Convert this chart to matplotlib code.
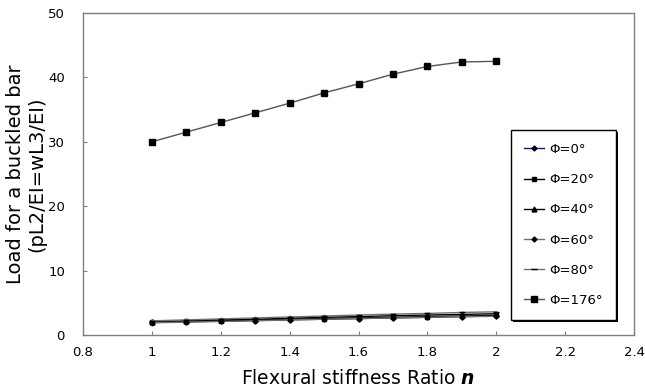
"""Load for a buckled bar against the flexural stiffness ratio, one line per angle."""

import matplotlib.patheffects as pe
import matplotlib.pyplot as plt

plt.switch_backend("Agg")
plt.rcParams["font.family"] = ["DejaVu Sans"]

INK = "#000000"
FRAME = "#808080"

ratio = [1.0, 1.1, 1.2, 1.3, 1.4, 1.5, 1.6, 1.7, 1.8, 1.9, 2.0]

phi_0 = [1.95, 2.05, 2.15, 2.25, 2.35, 2.45, 2.55, 2.65, 2.75, 2.85, 2.95]
phi_20 = [2.0, 2.1, 2.2, 2.3, 2.45, 2.55, 2.65, 2.75, 2.85, 2.95, 3.05]
phi_40 = [2.05, 2.2, 2.35, 2.45, 2.6, 2.75, 2.85, 3.0, 3.1, 3.2, 3.3]
phi_60 = [1.9, 2.0, 2.1, 2.2, 2.35, 2.45, 2.55, 2.65, 2.75, 2.85, 2.9]
phi_80 = [2.2, 2.35, 2.5, 2.65, 2.8, 2.95, 3.1, 3.25, 3.35, 3.5, 3.6]
phi_176 = [30.0, 31.5, 33.0, 34.5, 36.0, 37.6, 39.0, 40.5, 41.7, 42.4, 42.5]

series = [
    ("Φ=0°", phi_0, "#1a1a6e", "D", 2.5),
    ("Φ=20°", phi_20, INK, "s", 3),
    ("Φ=40°", phi_40, INK, "^", 3.5),
    ("Φ=60°", phi_60, "#707070", "D", 2.5),
    ("Φ=80°", phi_80, "#707070", "_", 4),
    ("Φ=176°", phi_176, "#555555", "s", 4.5),
]

fig = plt.figure(figsize=(6.45, 3.92), dpi=100)
ax = fig.add_axes([0.1287, 0.1454, 0.8543, 0.8214])

for label, vals, lc, mk, ms in series:
    ax.plot(ratio, vals, color=lc, linewidth=1.0, marker=mk, markersize=ms,
            markerfacecolor=INK, markeredgecolor=INK, label=label)

ax.set_xlim(0.8, 2.4)
ax.set_ylim(0, 50)
ax.set_xticks([0.8, 1.0, 1.2, 1.4, 1.6, 1.8, 2.0, 2.2, 2.4],
              ["0.8", "1", "1.2", "1.4", "1.6", "1.8", "2", "2.2", "2.4"])
ax.set_yticks([0, 10, 20, 30, 40, 50])
ax.tick_params(direction="in", length=3, color=FRAME, labelsize=9.5)
ax.tick_params(axis="x", pad=8)
ax.tick_params(axis="y", pad=13)
for sp in ax.spines.values():
    sp.set_color(FRAME)
    sp.set_linewidth(1.0)

ax.set_xlabel("Flexural stiffness Ratio $\\boldsymbol{n}$", fontsize=13.5, labelpad=7)
ax.set_ylabel("Load for a buckled bar\n(pL2/EI=wL3/EI)", fontsize=14)
ax.yaxis.set_label_coords(-0.066, 0.5)

leg = ax.legend(loc="upper left", bbox_to_anchor=(0.777, 0.637), frameon=True,
                fancybox=False, edgecolor=INK, facecolor="white", framealpha=1.0,
                fontsize=9.5, handlelength=1.5, labelspacing=1.3, borderpad=1.0,
                handletextpad=0.4, borderaxespad=0)
frame = leg.get_frame()
frame.set_linewidth(1.0)
frame.set_path_effects([
    pe.SimplePatchShadow(offset=(1.6, -1.6), shadow_rgbFace=INK, alpha=1.0),
    pe.Normal(),
])

fig.savefig("out.png", dpi=100)
